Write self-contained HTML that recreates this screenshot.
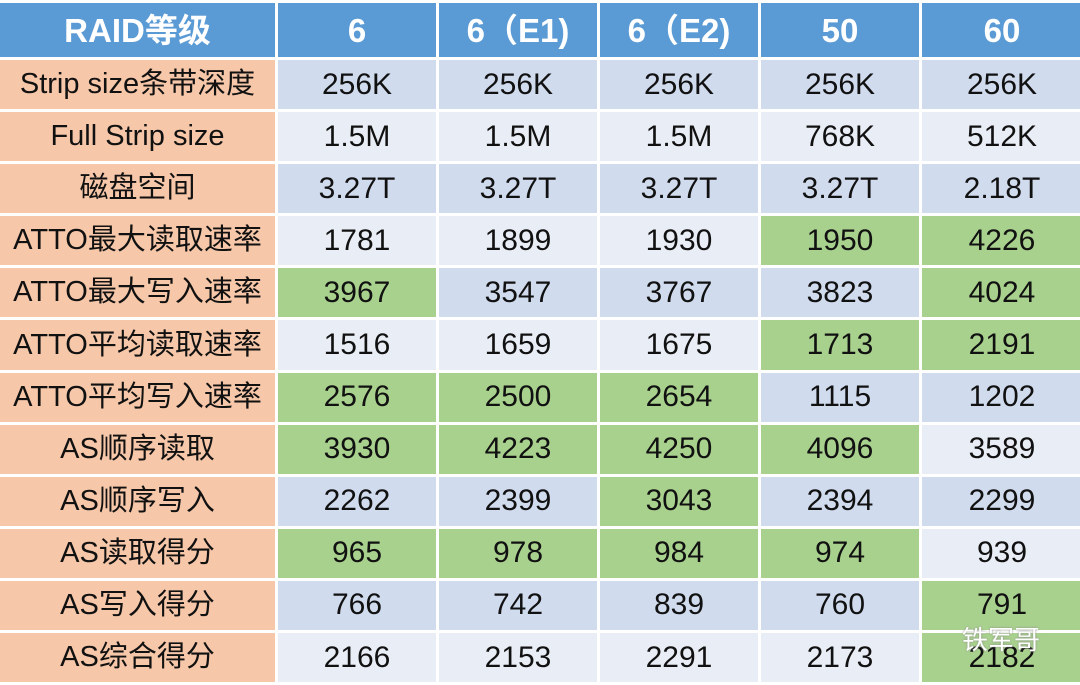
<!DOCTYPE html><html><head><meta charset="utf-8"><style>
body{margin:0;background:#fff;width:1080px;height:685px;overflow:hidden;font-family:"Liberation Sans","Noto Sans CJK SC",sans-serif}
.g0{position:absolute;left:0;top:3px;display:grid;grid-template-columns:275px 158px 158px 158px 158px 160px;grid-template-rows:54px repeat(12,49.1px);gap:3px}
.g0 div{display:flex;align-items:center;justify-content:center;font-size:30px;color:#111;background:#E9EDF5;white-space:nowrap;line-height:1}
.g0 div.d{background:#D0DBEE}
.g0 div.h{background:#5B9BD5;color:#fff;font-weight:bold;font-size:33px}
.g0 div.o{background:#F6C7A9;font-size:29px}
.g0 div.g{background:#A9D18E}
</style></head><body>
<div class="g0">
<div class="h">RAID等级</div><div class="h">6</div><div class="h">6（E1)</div><div class="h">6（E2)</div><div class="h">50</div><div class="h">60</div>
<div class="o">Strip size条带深度</div><div class="d">256K</div><div class="d">256K</div><div class="d">256K</div><div class="d">256K</div><div class="d">256K</div>
<div class="o">Full Strip size</div><div>1.5M</div><div>1.5M</div><div>1.5M</div><div>768K</div><div>512K</div>
<div class="o">磁盘空间</div><div class="d">3.27T</div><div class="d">3.27T</div><div class="d">3.27T</div><div class="d">3.27T</div><div class="d">2.18T</div>
<div class="o">ATTO最大读取速率</div><div>1781</div><div>1899</div><div>1930</div><div class="g">1950</div><div class="g">4226</div>
<div class="o">ATTO最大写入速率</div><div class="g">3967</div><div class="d">3547</div><div class="d">3767</div><div class="d">3823</div><div class="g">4024</div>
<div class="o">ATTO平均读取速率</div><div>1516</div><div>1659</div><div>1675</div><div class="g">1713</div><div class="g">2191</div>
<div class="o">ATTO平均写入速率</div><div class="g">2576</div><div class="g">2500</div><div class="g">2654</div><div class="d">1115</div><div class="d">1202</div>
<div class="o">AS顺序读取</div><div class="g">3930</div><div class="g">4223</div><div class="g">4250</div><div class="g">4096</div><div>3589</div>
<div class="o">AS顺序写入</div><div class="d">2262</div><div class="d">2399</div><div class="g">3043</div><div class="d">2394</div><div class="d">2299</div>
<div class="o">AS读取得分</div><div class="g">965</div><div class="g">978</div><div class="g">984</div><div class="g">974</div><div>939</div>
<div class="o">AS写入得分</div><div class="d">766</div><div class="d">742</div><div class="d">839</div><div class="d">760</div><div class="g">791</div>
<div class="o">AS综合得分</div><div>2166</div><div>2153</div><div>2291</div><div>2173</div><div class="g">2182</div>
</div>
<div style="position:absolute;left:962px;top:620px;color:#fff;font-size:26px;text-shadow:0 0 2px #888">铁军哥</div>
</body></html>
